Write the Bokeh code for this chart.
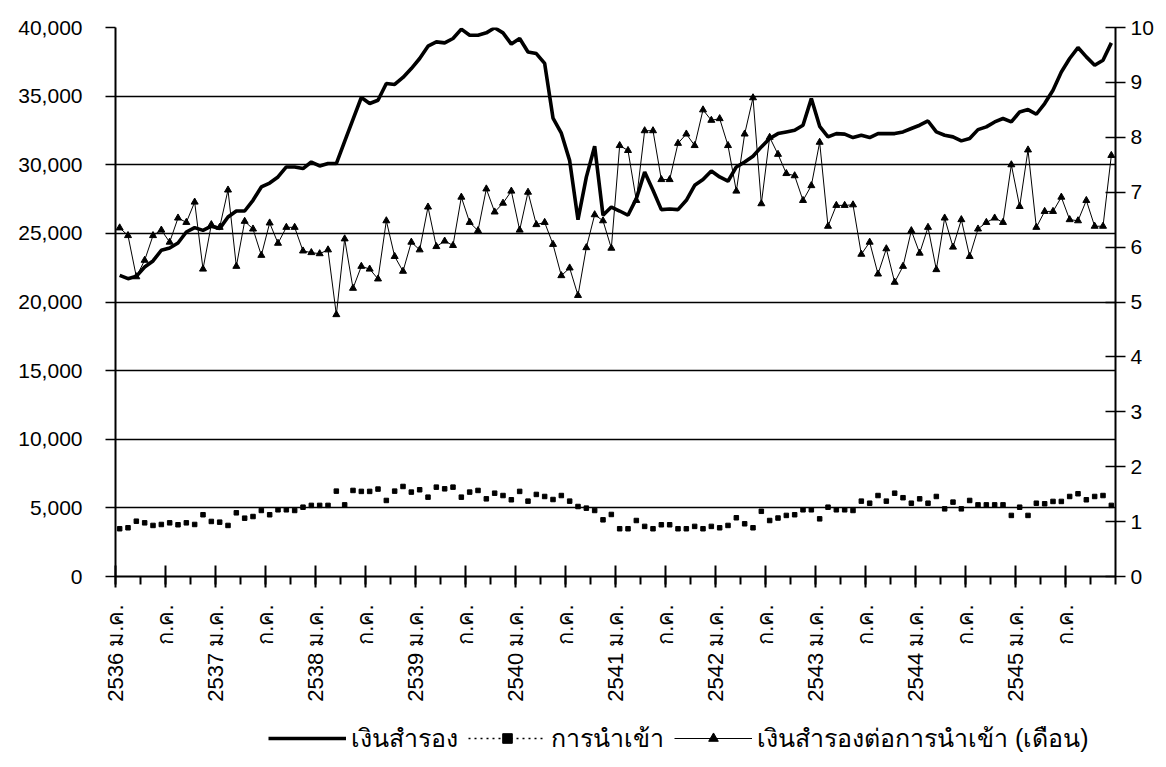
import numpy as np
from bokeh.plotting import figure
from bokeh.layouts import column
from bokeh.models import (Range1d, LinearAxis, FixedTicker, Legend, LegendItem,
                          NumeralTickFormatter, ColumnDataSource)
from bokeh.embed import file_html
from bokeh.resources import INLINE

# ---- data (monthly, ม.ค. 2536 - ธ.ค. 2545) ----
reserves = [21940, 21700, 21870, 22550, 22990, 23770, 23940, 24300, 25100, 25420, 25220, 25520,
            25350, 26190, 26630, 26630, 27410, 28380, 28670, 29110, 29840, 29840, 29720, 30200,
            29910, 30090, 30090, 31700, 33300, 34900, 34460, 34700, 35920, 35850, 36360, 37010,
            37740, 38640, 38950, 38880, 39200, 39880, 39440, 39440, 39610, 39980, 39610, 38790,
            39200, 38220, 38100, 37380, 33400, 32300, 30300, 26000, 29100, 31350, 26320, 26920,
            26630, 26320, 27530, 29470, 28140, 26730, 26780, 26730, 27410, 28500, 28920, 29550,
            29110, 28800, 29840, 30200, 30620, 31300, 31910, 32270, 32390, 32510, 32880, 34820,
            32800, 32030, 32270, 32230, 31980, 32150, 31980, 32270, 32270, 32270, 32390, 32640,
            32880, 33190, 32390, 32150, 32030, 31740, 31910, 32560, 32760, 33120, 33370, 33120,
            33850, 34020, 33680, 34460, 35430, 36760, 37740, 38540, 37860, 37250, 37620, 38880]

imports = [3480, 3550, 4030, 3910, 3720, 3790, 3910, 3770, 3910, 3790, 4500, 4010,
           3960, 3720, 4640, 4250, 4370, 4810, 4500, 4860, 4860, 4810, 5050, 5180,
           5180, 5180, 6220, 5220, 6270, 6200, 6200, 6370, 5540, 6220, 6560, 6150,
           6320, 5780, 6510, 6390, 6510, 5780, 6150, 6270, 5660, 6070, 5900, 5590,
           6200, 5490, 5980, 5830, 5610, 5900, 5490, 5100, 4980, 4810, 4130, 4520,
           3480, 3480, 4080, 3650, 3480, 3770, 3770, 3480, 3480, 3650, 3480, 3650,
           3550, 3720, 4280, 3840, 3550, 4750, 4080, 4260, 4450, 4500, 4860, 4860,
           4200, 5050, 4860, 4860, 4810, 5490, 5340, 5900, 5490, 6070, 5740, 5340,
           5660, 5340, 5830, 4930, 5420, 4930, 5540, 5220, 5220, 5220, 5220, 4450,
           5050, 4450, 5340, 5300, 5470, 5470, 5830, 6030, 5590, 5830, 5900, 5180]

ratio = [6.35, 6.21, 5.46, 5.76, 6.21, 6.31, 6.09, 6.53, 6.45, 6.82, 5.60, 6.41,
         6.36, 7.04, 5.65, 6.47, 6.33, 5.85, 6.44, 6.07, 6.36, 6.36, 5.93, 5.90,
         5.88, 5.95, 4.77, 6.15, 5.25, 5.65, 5.60, 5.42, 6.48, 5.83, 5.56, 6.09,
         5.95, 6.73, 6.01, 6.11, 6.03, 6.91, 6.45, 6.30, 7.06, 6.64, 6.80, 7.02,
         6.31, 7.00, 6.41, 6.45, 6.05, 5.48, 5.62, 5.12, 5.99, 6.59, 6.48, 5.98,
         7.85, 7.76, 6.85, 8.12, 8.12, 7.23, 7.23, 7.89, 8.06, 7.85, 8.50, 8.31,
         8.34, 7.85, 7.02, 8.06, 8.72, 6.79, 8.00, 7.69, 7.34, 7.30, 6.85, 7.12,
         7.91, 6.38, 6.76, 6.76, 6.77, 5.87, 6.09, 5.51, 5.97, 5.36, 5.65, 6.30,
         5.89, 6.36, 5.59, 6.53, 6.00, 6.50, 5.83, 6.33, 6.45, 6.53, 6.45, 7.50,
         6.74, 7.77, 6.36, 6.65, 6.65, 6.91, 6.50, 6.48, 6.85, 6.38, 6.38, 7.67]

tick_labels = ["2536 ม.ค.", "ก.ค.", "2537 ม.ค.", "ก.ค.", "2538 ม.ค.", "ก.ค.",
               "2539 ม.ค.", "ก.ค.", "2540 ม.ค.", "ก.ค.", "2541 ม.ค.", "ก.ค.",
               "2542 ม.ค.", "ก.ค.", "2543 ม.ค.", "ก.ค.", "2544 ม.ค.", "ก.ค.",
               "2545 ม.ค.", "ก.ค."]

series_names = ["เงินสำรอง", "การนำเข้า", "เงินสำรองต่อการนำเข้า (เดือน)"]

FONT = "Liberation Sans"

x = np.arange(len(reserves)) + 0.5
src = ColumnDataSource(dict(x=x, reserves=reserves, imports=imports, ratio=ratio))

p = figure(width=1160, height=720, x_range=Range1d(0, 120), y_range=Range1d(0, 40000),
           output_backend="svg", toolbar_location=None,
           min_border_left=115, min_border_right=45, min_border_top=27, min_border_bottom=144)
p.outline_line_color = None
p.background_fill_color = "white"
p.border_fill_color = "white"
p.extra_y_ranges = {"ratio": Range1d(0, 10)}

# x axis
major = list(range(0, 120, 6))
minor = list(range(0, 121, 3))
xa = p.xaxis[0]
xa.ticker = FixedTicker(ticks=major, minor_ticks=minor)
xa.major_label_overrides = {t: lab for t, lab in zip(major, tick_labels)}
xa.major_label_orientation = np.pi / 2
xa.major_label_text_font = FONT
xa.major_label_text_font_size = "22px"
xa.major_label_text_color = "black"
xa.major_label_standoff = 17
xa.axis_line_width = 2
xa.axis_line_color = "black"
xa.major_tick_in = 11
xa.major_tick_out = 11
xa.major_tick_line_width = 2
xa.minor_tick_in = 0
xa.minor_tick_out = 8
xa.minor_tick_line_width = 2

# left axis
ya = p.yaxis[0]
ya.ticker = FixedTicker(ticks=list(range(0, 40001, 5000)))
ya.formatter = NumeralTickFormatter(format="0,0")
ya.major_label_text_font = FONT
ya.major_label_text_font_size = "21px"
ya.major_label_text_color = "black"
ya.major_label_standoff = 23
ya.axis_line_width = 2
ya.axis_line_color = "black"
ya.major_tick_in = 0
ya.major_tick_out = 10
ya.major_tick_line_width = 1.5
ya.minor_tick_line_color = None

# right axis
ra = LinearAxis(y_range_name="ratio", ticker=FixedTicker(ticks=list(range(0, 11))))
ra.major_label_text_font = FONT
ra.major_label_text_font_size = "21px"
ra.major_label_text_color = "black"
ra.major_label_standoff = 5
ra.axis_line_width = 2
ra.axis_line_color = "black"
ra.major_tick_in = 10
ra.major_tick_out = 10
ra.major_tick_line_width = 1.5
ra.minor_tick_line_color = None
p.add_layout(ra, "right")

p.xgrid.grid_line_color = None
p.ygrid.ticker = FixedTicker(ticks=list(range(0, 40001, 5000)))
p.ygrid.grid_line_color = "black"
p.ygrid.grid_line_width = 1.4

# series
p.line("x", "reserves", source=src, line_width=3.6, line_color="black")
p.line("x", "ratio", source=src, line_width=1, line_color="black", y_range_name="ratio")
p.scatter("x", "ratio", source=src, marker="triangle", size=7, fill_color="black",
          line_color="black", y_range_name="ratio")
p.scatter("x", "imports", source=src, marker="square", size=4.5, fill_color="black",
          line_color="black")

# legend strip (separate figure so the legend is not clipped by the plot frame)
lg = figure(width=1160, height=39, x_range=Range1d(0, 1), y_range=Range1d(0, 1),
            output_backend="svg", toolbar_location=None, min_border=0,
            x_axis_location=None, y_axis_location=None)
lg.outline_line_color = None
lg.grid.grid_line_color = None
lg.border_fill_color = "white"
l_res = lg.line("x", "reserves", source=src, line_width=3.4, line_color="black", visible=False)
l_imp_line = lg.line("x", "imports", source=src, line_dash="dotted", line_width=1.5,
                     line_color="black", visible=False)
l_imp_pt = lg.scatter("x", "imports", source=src, marker="square", size=4.5, fill_color="black",
                      line_color="black", visible=False)
l_rat_line = lg.line("x", "ratio", source=src, line_width=1, line_color="black", visible=False)
l_rat_pt = lg.scatter("x", "ratio", source=src, marker="triangle", size=7, fill_color="black",
                      line_color="black", visible=False)

legend = Legend(items=[LegendItem(label=series_names[0], renderers=[l_res]),
                       LegendItem(label=series_names[1], renderers=[l_imp_line, l_imp_pt]),
                       LegendItem(label=series_names[2], renderers=[l_rat_line, l_rat_pt])],
                orientation="horizontal", location=(153, 1),
                border_line_color=None, background_fill_alpha=0,
                label_text_font=FONT, label_text_font_size="25px", label_text_color="black",
                glyph_width=78, glyph_height=24, label_standoff=5, spacing=10,
                padding=0, margin=0, click_policy="none")
lg.add_layout(legend, "center")

open("out.html", "w").write(file_html(column(p, lg, spacing=0), INLINE))
